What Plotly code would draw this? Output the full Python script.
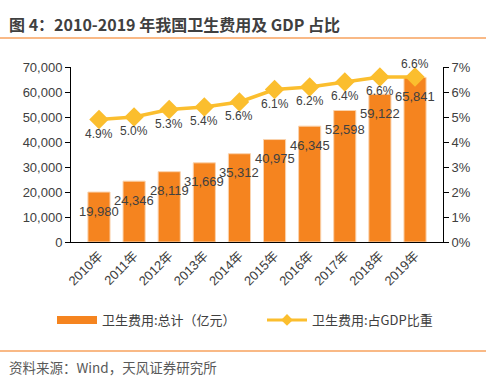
import plotly.graph_objects as go

years = ["2010年", "2011年", "2012年", "2013年", "2014年", "2015年", "2016年", "2017年", "2018年", "2019年"]
spending = [19980, 24346, 28119, 31669, 35312, 40975, 46345, 52598, 59122, 65841]
gdp_share = [4.9, 5.0, 5.3, 5.4, 5.6, 6.1, 6.2, 6.4, 6.6, 6.6]
left_ticks = [0, 10000, 20000, 30000, 40000, 50000, 60000, 70000]
right_ticks = [0, 1, 2, 3, 4, 5, 6, 7]
right_labels = [f"{t}%" for t in right_ticks]

W, H = 486, 380
L, R, T, B = 71, 43, 67, 138

BAR = "#F5841F"
LINE = "#FBBE2E"
TXT = "#404040"
FONT = "Liberation Sans, Noto Sans CJK SC, sans-serif"
CJK = "Noto Sans CJK SC, sans-serif"

fig = go.Figure()
fig.add_trace(go.Bar(
    x=years, y=spending, name="卫生费用:总计（亿元）",
    marker=dict(color=BAR, line=dict(color="#FAD3AE", width=1)),
    yaxis="y", showlegend=False,
))
fig.add_trace(go.Scatter(
    x=years, y=gdp_share, name="卫生费用:占GDP比重",
    mode="lines+markers", yaxis="y2", showlegend=False,
    line=dict(color=LINE, width=3.5),
    marker=dict(symbol="diamond", size=15, color=LINE),
))
# legend entries
fig.add_trace(go.Scatter(
    x=[None], y=[None], name="卫生费用:总计（亿元）", mode="lines",
    line=dict(color=BAR, width=8), yaxis="y",
))
fig.add_trace(go.Scatter(
    x=[None], y=[None], name="卫生费用:占GDP比重", mode="lines+markers",
    line=dict(color=LINE, width=3), marker=dict(symbol="diamond", size=9, color=LINE),
    yaxis="y2",
))

# bar value labels
for yr, v in zip(years, spending):
    fig.add_annotation(x=yr, y=v, xref="x", yref="y", text=f"{v:,}",
                       showarrow=False, yshift=-19,
                       font=dict(family=FONT, size=13, color=TXT))
# percent labels
for i, (yr, p) in enumerate(zip(years, gdp_share)):
    shift = 13 if i == len(years) - 1 else -14
    fig.add_annotation(x=yr, y=p, xref="x", yref="y2", text=f"{p:.1f}%",
                       showarrow=False, yshift=shift,
                       font=dict(family=FONT, size=12, color=TXT))

def px_x(x):
    return (x - L) / (W - L - R)

def px_y(y):
    return 1 - (y - T) / (H - T - B)

# title, separator lines, source
fig.add_annotation(xref="paper", yref="paper", x=px_x(7), y=px_y(24), xanchor="left", yanchor="middle",
                   text="<b>图 4：2010-2019 年我国卫生费用及 GDP 占比</b>", showarrow=False,
                   font=dict(family=CJK, size=16, color="#404040"))
fig.add_annotation(xref="paper", yref="paper", x=px_x(7), y=px_y(367), xanchor="left", yanchor="middle",
                   text="资料来源：Wind，天风证券研究所", showarrow=False,
                   font=dict(family=CJK, size=13.5, color="#595959"))
for yy in (38, 351):
    fig.add_shape(type="line", xref="paper", yref="paper", x0=px_x(0), x1=px_x(W),
                  y0=px_y(yy), y1=px_y(yy), line=dict(color="#F7A25E", width=1.5))

fig.update_layout(
    width=W, height=H, margin=dict(l=L, r=R, t=T, b=B, autoexpand=False),
    paper_bgcolor="white", plot_bgcolor="white",
    bargap=0.37, showlegend=True,
    legend=dict(orientation="h", x=px_x(52), xanchor="left", y=px_y(320), yanchor="middle",
                font=dict(family=CJK, size=13, color=TXT), itemwidth=40,
                entrywidth=155, entrywidthmode="pixels",
                traceorder="normal", tracegroupgap=0),
    xaxis=dict(tickangle=-45, showline=True, linecolor="black", linewidth=1,
               ticks="", tickfont=dict(family=FONT, size=13, color="#404040"),
               fixedrange=True, automargin=False),
    yaxis=dict(range=[0, 70000], tickvals=left_ticks, tickformat=",d",
               showline=True, linecolor="black", linewidth=1, ticks="outside", ticklen=5,
               tickcolor="black", showgrid=False, zeroline=False, automargin=False,
               tickfont=dict(family=FONT, size=13, color="#404040")),
    yaxis2=dict(range=[0, 7], tickvals=right_ticks, ticktext=right_labels, overlaying="y", side="right",
                showline=True, linecolor="black", linewidth=1, ticks="outside", ticklen=5,
                tickcolor="black", showgrid=False, zeroline=False, automargin=False,
                tickfont=dict(family=FONT, size=13, color="#404040")),
)

fig.write_html("out.html", config={"displayModeBar": False},
               post_script="document.body.style.margin='0';")
